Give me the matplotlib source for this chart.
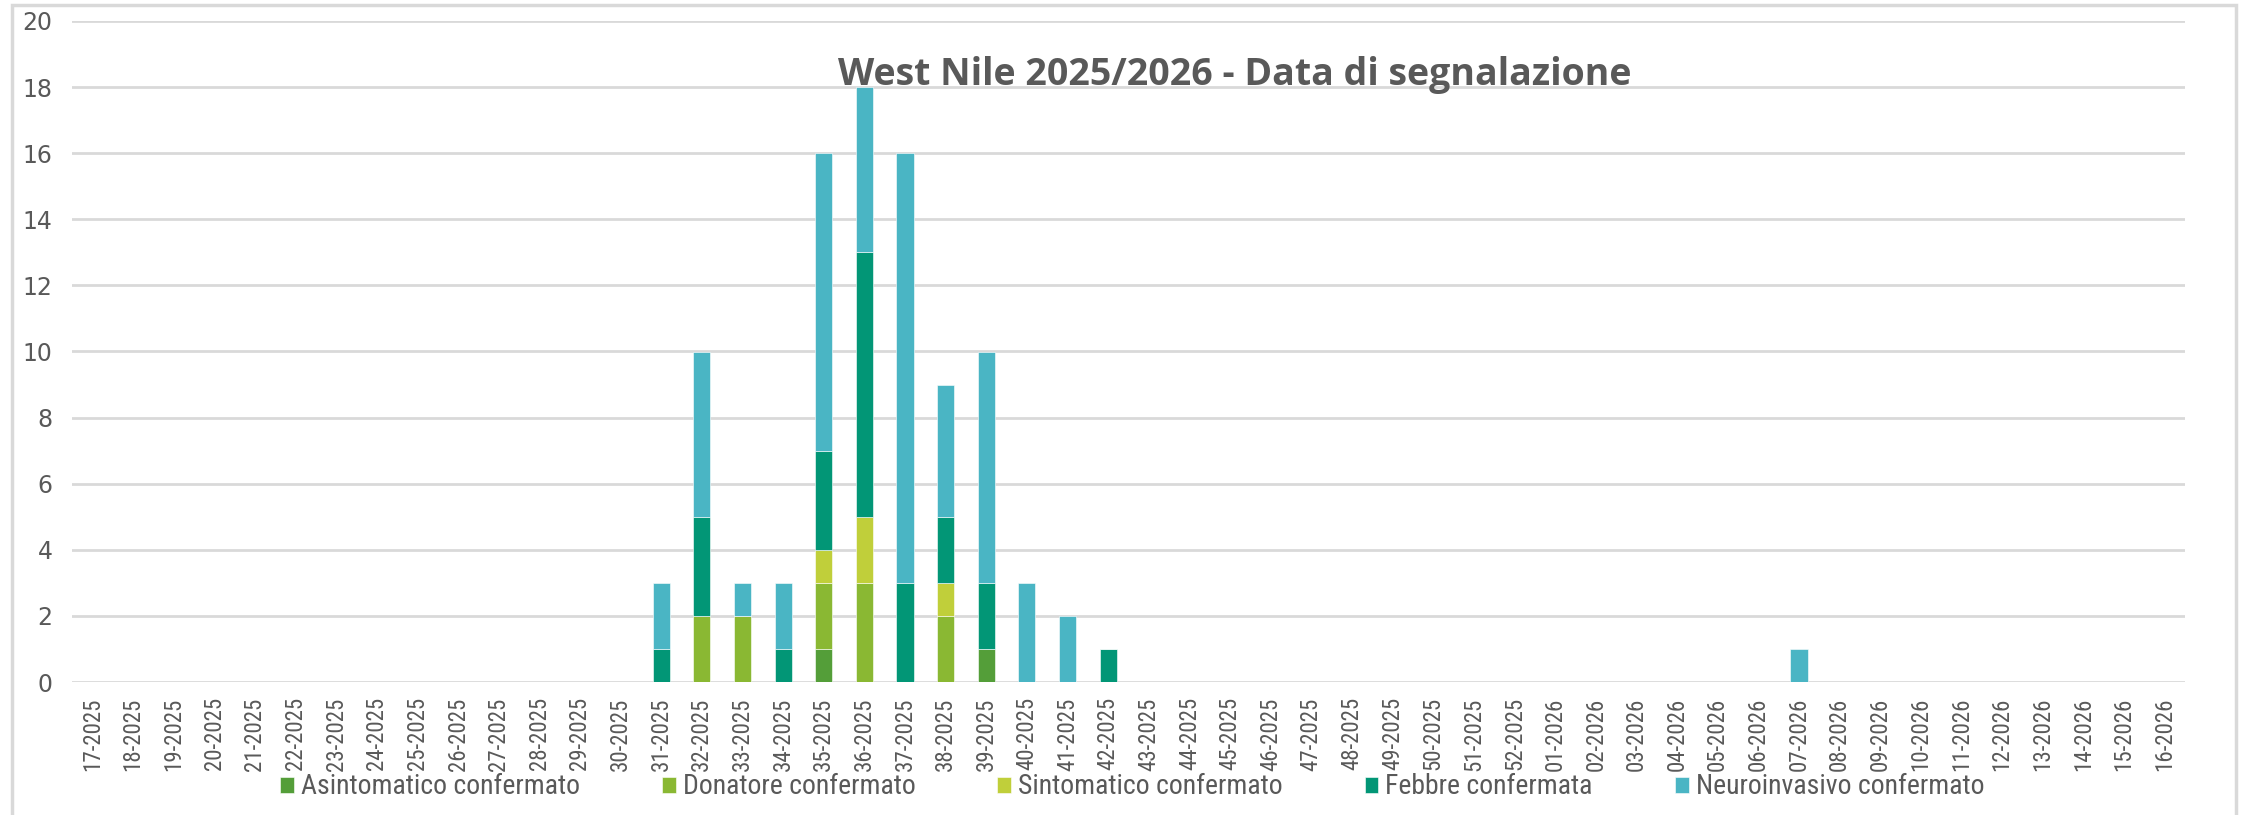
import matplotlib
matplotlib.use("Agg")
import matplotlib.pyplot as plt
from matplotlib import font_manager
from matplotlib.patches import Rectangle
import numpy as np

# ---- data ----
weeks = [f"{w:02d}-2025" for w in range(17, 53)] + [f"{w:02d}-2026" for w in range(1, 17)]
series_names = ["Asintomatico confermato", "Donatore confermato", "Sintomatico confermato",
                "Febbre confermata", "Neuroinvasivo confermato"]
colors = ["#549E39", "#8AB833", "#C0CF3A", "#029676", "#4AB5C4"]

asintomatico = {"35-2025": 1, "39-2025": 1}
donatore = {"32-2025": 2, "33-2025": 2, "35-2025": 2, "36-2025": 3, "38-2025": 2}
sintomatico = {"35-2025": 1, "36-2025": 2, "38-2025": 1}
febbre = {"31-2025": 1, "32-2025": 3, "34-2025": 1, "35-2025": 3, "36-2025": 8,
          "37-2025": 3, "38-2025": 2, "39-2025": 2, "42-2025": 1}
neuro = {"31-2025": 2, "32-2025": 5, "33-2025": 1, "34-2025": 2, "35-2025": 9,
         "36-2025": 5, "37-2025": 13, "38-2025": 4, "39-2025": 7, "40-2025": 3,
         "41-2025": 2, "07-2026": 1}

series = [asintomatico, donatore, sintomatico, febbre, neuro]
title = "West Nile 2025/2026 - Data di segnalazione"
yticks = list(range(0, 21, 2))


def pick(fams):
    for f in fams:
        try:
            font_manager.findfont(f, fallback_to_default=False)
            return f
        except Exception:
            pass
    return "DejaVu Sans"


narrow = pick(["Liberation Sans Narrow", "Roboto Condensed", "Open Sans Condensed", "Noto Sans"])
bold_font = pick(["Open Sans", "Noto Sans", "DejaVu Sans"])

W, H = 2243, 815
fig = plt.figure(figsize=(W / 100, H / 100), dpi=100)
fig.patch.set_facecolor("white")

left, right, top, bottom = 72, 2185, 21, 682
ax = fig.add_axes([left / W, 1 - bottom / H, (right - left) / W, (bottom - top) / H])

x = np.arange(len(weeks))
base = np.zeros(len(weeks))
for name, data, c in zip(series_names, series, colors):
    vals = np.array([data.get(w, 0) for w in weeks], dtype=float)
    ax.bar(x, vals, width=0.42, bottom=base, color=c, label=name,
           edgecolor="white", linewidth=0.4, zorder=3)
    base += vals

ax.set_xlim(-0.5, len(weeks) - 0.5)
ax.set_ylim(0, 20)
ax.set_yticks(yticks)
ax.set_yticklabels([str(t) for t in yticks])
ax.set_xticks(x)
ax.set_xticklabels(weeks, rotation=90, fontfamily=narrow, fontsize=16.5, color="#595959")
for lab in ax.get_yticklabels():
    lab.set_fontfamily("DejaVu Sans")
    lab.set_fontsize(17)
    lab.set_color("#595959")
ax.tick_params(axis="y", length=0, pad=14)
ax.tick_params(axis="x", length=0, pad=11)
ax.grid(axis="y", color="#D9D9D9", linewidth=2, zorder=0)
for s in ax.spines.values():
    s.set_visible(False)
ax.set_axisbelow(True)

fig.text(1235 / W, 1 - 85 / H, title, ha="center", va="baseline",
         fontfamily=bold_font, fontweight="bold", fontsize=27, color="#595959")

leg = fig.legend(loc="center", bbox_to_anchor=(1132 / W, 1 - 787 / H), ncol=5,
                 frameon=False, prop={"family": narrow, "size": 20},
                 handlelength=0.5, handleheight=0.5, handletextpad=0.25,
                 columnspacing=2.95, labelcolor="#595959")

fig.patches.append(Rectangle((12 / W, -0.01), (2236 - 12) / W, 1 - 5 / H + 0.01,
                             transform=fig.transFigure, fill=False,
                             edgecolor="#D9D9D9", linewidth=2.5))

fig.savefig("out.png", dpi=100, facecolor="white")
